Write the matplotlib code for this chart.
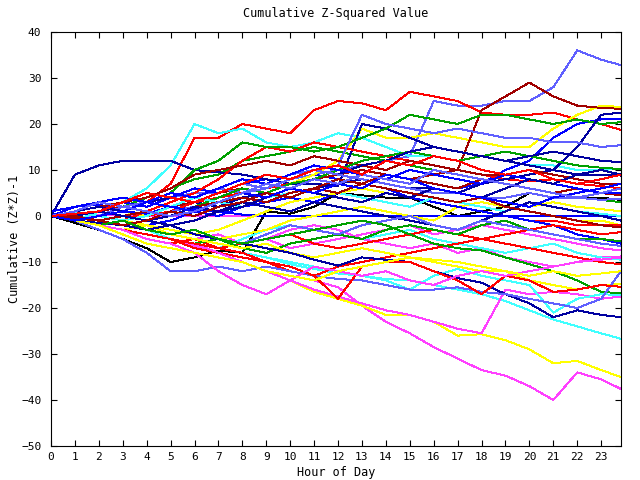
import numpy as np
import matplotlib
matplotlib.use("Agg")
import matplotlib.pyplot as plt

plt.rcParams['font.family'] = ['DejaVu Sans Mono']

# hour grid (last sample at 23:50)
hours = list(range(24)) + [23.83]

# gnuplot-ish palette
R = '#ff0000'
DR = '#a00000'
G = '#00a000'
B = '#0000ff'
NV = '#0000a0'
LB = '#6060ff'
M = '#ff40ff'
C = '#40ffff'
Y = '#ffff00'
K = '#000000'

nan = np.nan

series = [
    (LB, [0, 1, 0, 2, 3, 4, 5, 5, 7, 6, 8, 9, 10, 11, 12, 13, 25, 24, 24, 25, 25, 28, 36, 34, 32.8]),
    (R, [0, -1, 0, 2, 3, 7, 17, 17, 20, 19, 18, 23, 25, 24.5, 23, 27, 26, 25, 22.5, 22, 22, 22.5, 21, 20, 18.7]),
    (G, [0, 0.5, 1, 2, 4, 6, 8, 9, 12, 13, 14, 15, 14, 13, 12, 11, 10, 9, 8, 7, 6, 5, 4, 3.5, 3]),
    (B, [0, 0, 1, 3, 2, 4, 6, 5, 7, 8, 7, 9, 8, 7, 9, 8, 7, 6, 7, 10, 12, 17, 20, 21, 21]),
    (M, [0, -0.5, 0.3, 0, 0, 0, 0, 0, 0, 0, 0, 0, 0, nan, nan, nan, nan, nan, nan, nan, nan, nan, nan, nan, nan]),
    (C, [0, -1, 1, 3, 6, 11, 20, 18, 19, 16, 15, 16, 18, 17, 15, 13, 13, 12, 13, 12, 11, 11, 10, 10, 10.3]),
    (Y, [0, -1, 0, 1, 0, 2, 3, 4, 5, 6, 7, 9, 12, 19, 17, 17, 18, 17, 16, 15, 15, 19, 22, 24, 23.7]),
    (NV, [0, 9, 11, 12, 12, 12, 10, 9.5, 9, 8, 7, 7, 6.5, 20, 19, 17, 15, 14, 13, 12, 11, 10, 9, 9, 8.8]),
    (DR, [0, 0.5, 1, 2, 3, 2, 3, 5, 6, 5, 7, 8, 9, 10, 9, 8, 9, 10, 23, 26, 29, 26, 24, 23.5, 23.3]),
    (K, [0, -1.5, -3, -5, -7, -10, -9, -7.5, -8, 1, 0.5, 2, 5, 4.5, 4, 4, 2, 0, 1, 2, 5, 4, 4, 4, 3.5]),
    (R, [0, 1, 0, -1, 1, 3, 5, 8, 12, 15, 14, 16, 15, 14, 13, 12, 11, 10, 9, 8, 7.5, 8, 7, 6.5, 6]),
    (G, [0, 1, 2, 1, 3, 5, 10, 12, 16, 15, 15, 14, 15, 17, 19, 22, 21, 20, 22, 22, 21, 20, 21, 20, 20.4]),
    (B, [1, 2, 2.5, 1, 0.5, 2, 1.5, 1, 0.3, 0, 0, 0, 0, 0, 0, 0, 0, 0, 0, 0, 0, 0, 0, 0, 0]),
    (M, [0, -1, -2, -3, -2, -4, -5, -4, -6, -5, -3, -2, -3, -5, -6, -7, -6, -8, -7, -9, -10, -11, -10, -9, -8.8]),
    (C, [0, 0, -1, -2, -3, -5, -6, -7, -5, -3, -2, -3, -4, -5, -4, -3, -5, -6, -7, -8, -7, -6, -8, -9, -9.5]),
    (Y, [0, 0, -1, -2, -3, -4, -3, -5, -4, -3, -1, 0, 1, 2, 1, 0, -1, 2, 3, 2, 1, 0, -1, -1, -2]),
    (NV, [0, 1, 0, -1, 0, 1, 3, 2, 4, 5, 4, 6, 7, 8, 7, 6, 6, 5, 7, 8, 9, 10, 15, 22, 22.5]),
    (LB, [0, 1, 0, 2, 3, 2, 4, 6, 5, 7, 9, 10, 11, 22, 20, 19, 18, 19, 18, 17, 17, 16, 16, 15, 15.4]),
    (DR, [0, 1, 2, 3, 4, 6, 9, 10, 11, 12, 11, 13, 12, 11, 10, 12, 11, 10, 9, 9, 10, 9, 8, 7, 7]),
    (R, [0, -1, -2, -1, 0, 1, 3, 4, 5, 6, 7, 8, 7, 6, 5, 4, 3, 2, 1, 0, -1, -1, -2, -2, -2]),
    (G, [0, 0, -1, -2, -1, 1, 2, 4, 6, 5, 7, 8, 10, 12, 13, 14, 13, 12, 13, 14, 13, 12, 11, 10.5, 10.2]),
    (B, [0, 1, 0, -1, -2, -1, 1, 0, 2, 3, 4, 3, 5, 7, 6, 4, 3, 2, 1, 0, -1, -2, -4, -5, -6]),
    (M, [0, -0.5, -1, -2, -3, -2, -4, -5, -6, -5, -7, -6, -5, -4, -3, -2, -4, -3, -2, -3, -4, -5, -6, -7, -7.5]),
    (C, [0, 1, 0, -1, 0, 2, 4, 3, 2, 4, 5, 6, 5, 4, 3, 2, 4, 3, 2, 1, 3, 2, 1, 0.5, 0]),
    (Y, [0, -1, -2, -1, -2, -3, -4, -3, -1, 1, 3, 4, 5, 6, 5, 4, 6, 5, 4, 3, 2, 3, 2, 1.5, 1]),
    (NV, [0, 1, 2, 1, 3, 4, 3, 5, 7, 9, 8, 10, 9, 11, 12, 14, 15, 14, 13, 12, 13, 14, 13, 12, 11.7]),
    (LB, [0, 0, -1, -2, -1, 1, 2, 3, 5, 6, 8, 10, 9, 8, 7, 6, 5, 5, 4, 4, 5, 4, 4, 3.5, 3.8]),
    (DR, [0, -0.5, -1, 0, 1, 0, 2, 3, 4, 3, 5, 6, 5, 7, 9, 8, 7, 6, 8, 7, 6, 5, 6, 5, 4.5]),
    (R, [0, -1, -2, -3, -5, -6, -5, -7, -6, -5, -4, -6, -7, -6, -5, -4, -3, -4, -5, -4, -3, -2, -3, -4, -3.5]),
    (G, [0, -1, -2, -3, -4, -5, -6, -5, -7, -8, -6, -5, -4, -5, -3, -2, -3, -4, -2, -1, -3, -4, -5, -5, -5.5]),
    (B, [0, 2, 3, 4, 3, 5, 4, 6, 8, 7, 9, 11, 10, 9, 8, 10, 9, 8, 7, 9, 8, 7, 6, 5, 5]),
    (M, [0, -1, -2, -3, -4, -5, -6.5, -8, -10, -12, -13, -14, -15.5, -19.5, -23, -25.5, -28.5, -31, -33.5, -34.7, -37, -40, -34, -35.5, -37.6]),
    (C, [0, -1, -2, -3, -4, -5, -6, -7, -8, -9, -10.5, -11.5, -12.5, -13, -13.7, -14, -15, -16, -17, -18.5, -20.5, -22.5, -24, -25.5, -26.7]),
    (Y, [0, -1, -2, -3, -4, -5, -6, -8, -10, -12, -14, -16.5, -18, -19.5, -21.5, -21.5, -23, -26, -25.7, -27, -29, -32, -31.5, -33.5, -35]),
    (NV, [0, 0, -1, -2, -1, 0, 2, 1, 3, 2, 1, 3, 2, 1, 0, -1, -2, -3, -1, 1, 3, 2, 1, 0, -1]),
    (LB, [0, -1, -2, -3, -2, -4, -3, -5, -6, -4, -2, -3, -4, -2, -1, 0, -2, -3, -1, -2, -3, -4, -5, -6, -6.5]),
    (R, [0, -1, -2, -3, -4, -5, -7, -8, -9, -10, -12, -13, -11, -10, -9, -8, -7, -6, -5, -6, -7, -8, -9, -10, -10.5]),
    (NV, [0, 0, 1, 0, -1, -2, -1, 1, 2, 4, 6, 5, 4, 3, 5, 4, 6, 5, 4, 6, 8, 7, 9, 10, 9]),
    (M, [0, -1, -2, -3, -4, -5, -6, -8, -10, -12, -14, -16, -17.5, -19, -20.5, -21.5, -23, -24.5, -25.5, -16, -17, -16.5, -17, -18, -17.5]),
    (C, [0, -1, -2, -3, -4, -5, -6, -7, -8, -9, -10, -11, -12, -13, -14, -16, -13, -11.5, -13, -14, -15, -21, -18, -17, -17.2]),
    (Y, [0, -1, -2, -3, -2, -4, -5, -6, -7, -6, -8, -9, -8, -7, -8, -9, -10, -11, -12, -12, -14, -15, -16, -15, -14.8]),
    (NV, [0, -1, -1.5, -2, -3, -2, -4, -5, -6, -7, -8, -9.5, -10.8, -9, -9.5, -10, -12, -13.5, -14.5, -17, -19, -22, -20.5, -21.5, -22]),
    (DR, [0, 0, -1, -2, -1, 1, 0, 2, 3, 5, 4, 6, 8, 7, 6, 5, 4, 3, 4, 2, 1, 0, -1, -2, -2.5]),
    (G, [0, -1, -2, -1, -3, -4, -3, -5, -6, -5, -4, -3, -2, -1, -2, -4, -6, -7, -7.5, -9, -10.5, -12, -14, -16.5, -16.8]),
    (LB, [0, -1, -3, -5, -8, -12, -12, -11, -12, -11, -12, -13, -13.7, -14, -15, -16, -16, -15.5, -16.5, -17, -18, -19, -20, -18, -12]),
    (R, [0, -1, -2, -3, -4, -5, -6, -7, -8, -10, -11, -13, -18, -11, -10, -10, -12, -14, -17, -13, -14, -16.5, -16, -15, -15.4]),
    (M, [0, -1, -2, -3, -5, -6, -8, -12, -15, -17, -14, -11, -12, -13, -12, -14, -15, -13, -12, -13, -12, -11, -10, -9.5, -9]),
    (Y, [0, -1, -2, -4, -6, -7, -8, -9, -10, -12, -13, -14, -12, -11, -10, -9, -9.5, -10, -11, -12, -13, -12, -13, -12.5, -12]),
    (B, [0, -1, 0, 1, 3, 2, 1, 3, 5, 4, 6, 5, 7, 6, 9, 8, 6, 5, 4, 3, 2, 4, 5, 6, 7]),
    (LB, [0, 1, 3, 2, 1, 0, 1, 3, 5, 7, 6, 8, 7, 9, 8, 7, 10, 9, 8, 7, 6, 5, 4, 5, 6]),
    (R, [0, 0.5, 1, 3, 5, 4, 3, 5, 7, 9, 8, 10, 11, 9, 12, 11, 13, 12, 10, 9, 10, 8, 7, 8, 9]),
]

fig = plt.figure(figsize=(6.4, 4.8), dpi=100)
ax = fig.add_axes([51 / 640, 34 / 480, 570 / 640, 414 / 480])

for color, vals in series:
    ax.plot(hours, vals, color=color, linewidth=0.7, antialiased=False)

ax.set_xlim(0, 23.83)
ax.set_ylim(-50, 40)
ax.set_xticks(range(24))
ax.set_yticks(range(-50, 41, 10))
ax.tick_params(direction='in', length=4, width=0.8, top=True, right=True,
               labelsize=8, pad=4)
ax.tick_params(axis='y', pad=7)
for s in ax.spines.values():
    s.set_linewidth(0.8)

ax.set_title('Cumulative Z-Squared Value', fontsize=8.5, pad=11)
ax.set_xlabel('Hour of Day', fontsize=8.5, labelpad=3)
ax.set_ylabel('Cumulative (Z*Z)-1', fontsize=8.5, labelpad=0)

fig.savefig('out.png', dpi=100)
